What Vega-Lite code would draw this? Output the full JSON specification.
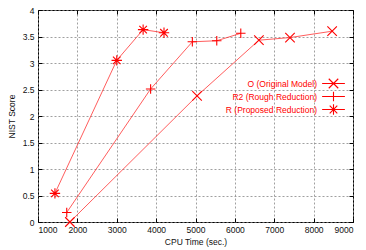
{
  "$schema": "https://vega.github.io/schema/vega-lite/v6.json",
  "width": 315,
  "height": 212,
  "autosize": {"type": "none"},
  "padding": {"left": 38, "top": 10, "right": 13, "bottom": 28},
  "background": "white",
  "config": {
    "font": "Liberation Sans",
    "view": {"stroke": "black", "strokeWidth": 1},
    "axis": {
      "domain": false,
      "tickColor": "black",
      "tickSize": -4,
      "labelFontSize": 8.5,
      "labelColor": "#111111",
      "titleFontSize": 8.5,
      "titleFontWeight": "normal",
      "titleColor": "#111111"
    }
  },
  "data": {
    "values": [
      {"series": "O (Original Model)", "time": 1810, "score": 0.0},
      {"series": "O (Original Model)", "time": 5040, "score": 2.38},
      {"series": "O (Original Model)", "time": 6610, "score": 3.43},
      {"series": "O (Original Model)", "time": 7400, "score": 3.48},
      {"series": "O (Original Model)", "time": 8470, "score": 3.6},
      {"series": "R2 (Rough Reduction)", "time": 1730, "score": 0.18},
      {"series": "R2 (Rough Reduction)", "time": 3860, "score": 2.51},
      {"series": "R2 (Rough Reduction)", "time": 4920, "score": 3.4},
      {"series": "R2 (Rough Reduction)", "time": 5540, "score": 3.42},
      {"series": "R2 (Rough Reduction)", "time": 6150, "score": 3.56},
      {"series": "R (Proposed Reduction)", "time": 1430, "score": 0.54},
      {"series": "R (Proposed Reduction)", "time": 3000, "score": 3.05},
      {"series": "R (Proposed Reduction)", "time": 3670, "score": 3.63},
      {"series": "R (Proposed Reduction)", "time": 4200, "score": 3.57}
    ]
  },
  "layer": [
    {
      "mark": {"type": "line", "color": "#ff2a2a", "strokeWidth": 0.9, "opacity": 0.85},
      "encoding": {
        "x": {
          "field": "time",
          "type": "quantitative",
          "title": "CPU Time (sec.)",
          "scale": {"domain": [1000, 9000], "nice": false, "zero": false},
          "axis": {
            "values": [1000, 2000, 3000, 4000, 5000, 6000, 7000, 8000, 9000],
            "format": "d",
            "grid": true,
            "gridColor": "#888888",
            "gridDash": [2, 2],
            "gridWidth": 0.8,
            "labelPadding": 7,
            "titlePadding": 4
          }
        },
        "y": {
          "field": "score",
          "type": "quantitative",
          "title": "NIST Score",
          "scale": {"domain": [0, 4], "nice": false},
          "axis": {
            "values": [0, 0.5, 1, 1.5, 2, 2.5, 3, 3.5, 4],
            "format": "~g",
            "grid": true,
            "gridColor": "#888888",
            "gridDash": [2, 2],
            "gridWidth": 0.8,
            "labelPadding": 8,
            "titlePadding": 6
          }
        },
        "detail": {"field": "series"}
      }
    },
    {
      "mark": {"type": "point", "filled": false, "color": "#ff0000", "strokeWidth": 1.1, "size": 90, "opacity": 1},
      "encoding": {
        "x": {"field": "time", "type": "quantitative", "axis": null},
        "y": {"field": "score", "type": "quantitative", "axis": null},
        "shape": {
          "field": "series",
          "type": "nominal",
          "scale": {
            "domain": ["O (Original Model)", "R2 (Rough Reduction)", "R (Proposed Reduction)"],
            "range": [
              "M-1,-1L1,1M-1,1L1,-1",
              "M-1,0L1,0M0,-1L0,1",
              "M-1.1,0L1.1,0M0,-1.1L0,1.1M-0.8,-0.8L0.8,0.8M-0.8,0.8L0.8,-0.8"
            ]
          },
          "legend": null
        }
      }
    },
    {
      "mark": {"type": "point", "filled": false, "color": "#ff0000", "strokeWidth": 1.1, "size": 90, "opacity": 0},
      "encoding": {
        "x": {"field": "time", "type": "quantitative", "axis": null},
        "y": {"field": "score", "type": "quantitative", "axis": null},
        "shape": {
          "field": "series",
          "type": "nominal",
          "scale": {
            "domain": ["O (Original Model)", "R2 (Rough Reduction)", "R (Proposed Reduction)"],
            "range": [
              "M-2.4,0L2.4,0M-1,-1L1,1M-1,1L1,-1",
              "M-2.4,0L2.4,0M0,-1L0,1",
              "M-2.4,0L2.4,0M0,-1.1L0,1.1M-0.8,-0.8L0.8,0.8M-0.8,0.8L0.8,-0.8"
            ]
          },
          "legend": {
            "title": null,
            "orient": "none",
            "legendX": 290,
            "legendY": 68,
            "padding": 0,
            "symbolSize": 90,
            "symbolOpacity": 1,
            "symbolStrokeColor": "#ff0000",
            "symbolStrokeWidth": 1.1,
            "symbolFillColor": "transparent",
            "labelAlign": "right",
            "labelOffset": -22,
            "labelColor": "#ff0000",
            "labelFontSize": 8.5,
            "rowPadding": -4.5
          }
        }
      }
    },
    {
      "mark": {"type": "point", "opacity": 0},
      "encoding": {
        "x": {
          "field": "time",
          "type": "quantitative",
          "axis": {
            "orient": "top",
            "values": [1000, 2000, 3000, 4000, 5000, 6000, 7000, 8000, 9000],
            "labels": false,
            "grid": false,
            "title": null
          }
        },
        "y": {
          "field": "score",
          "type": "quantitative",
          "axis": {
            "orient": "right",
            "values": [0, 0.5, 1, 1.5, 2, 2.5, 3, 3.5, 4],
            "labels": false,
            "grid": false,
            "title": null
          }
        }
      }
    }
  ],
  "resolve": {"scale": {"shape": "independent"}, "axis": {"x": "independent", "y": "independent"}}
}
